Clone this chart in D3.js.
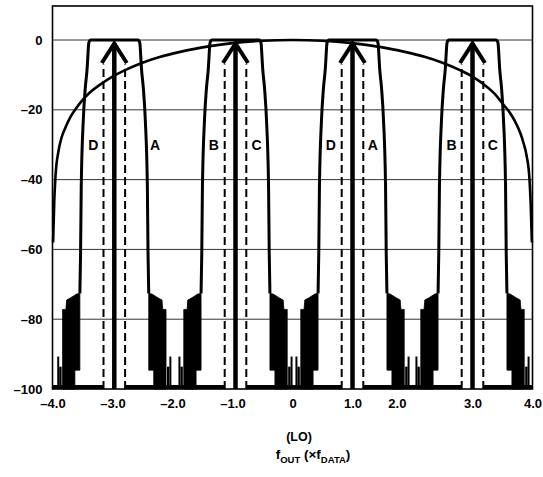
<!DOCTYPE html>
<html><head><meta charset="utf-8">
<script src="https://cdnjs.cloudflare.com/ajax/libs/d3/7.8.5/d3.min.js"></script>
<style>body{margin:0;background:#fff}svg{display:block}text{font-family:"Liberation Sans",Arial,Helvetica,sans-serif;font-weight:bold;fill:#000}</style>
</head><body>
<svg id="c" width="543" height="477"></svg>
<script>
// ---- data ----
const xTickPos    = [-4, -3, -2, -1, 0, 1, 1.74, 3, 4];
const xTickLabels = ["–4.0","–3.0","–2.0","–1.0","0","1.0","2.0","3.0","4.0"];
const yTickValues = [0, -20, -40, -60, -80, -100];
const yTickLabels = ["0","–20","–40","–60","–80","–100"];
const gridValues  = [0, -20, -40, -60, -80];

// tones (arrows) in units of f_DATA
const toneX = [-2.97, -0.95, 1.0, 3.0];
const toneDb = 0;
// dashed image lines beside each tone
const imageDx = 0.18;
const imageTopDb = -7;

// filter passband edge (left side, offset from tone), mirrored for right side
const edgeDx = [-0.574, -0.562, -0.551, -0.517, -0.485, -0.451, -0.437, -0.428, -0.414, -0.395];
const edgeDb = [-72.6, -61, -42, -23, -14, -7.7, -3.5, -1.2, -0.3, 0];

// stopband noise block outline (left side, offset from tone), mirrored for right side
const noiseDx = [-0.574, -0.629, -0.685, -0.740, -0.795, -0.807, -0.862, -0.862, -0.657, -0.657, -0.574];
const noiseDb = [-72.6, -72.8, -73.4, -74.0, -74.5, -77.2, -77.2, -100, -100, -94.6, -94.6];
// noise spikes (left side offsets)
const spikeX0  = [-0.951, -0.918];
const spikeX1  = [-0.918, -0.878];
const spikeTop = [-90.7, -93.6];

// sin(x)/x envelope
const sincX  = [-3.99,-3.97,-3.95,-3.9,-3.85,-3.8,-3.7,-3.6,-3.5,-3.4,-3.2,-3.0,-2.8,-2.5,-2.2,-2.0,-1.5,-1.0,-0.5,0,
                0.5,1.0,1.5,2.0,2.2,2.5,2.8,3.0,3.2,3.4,3.5,3.6,3.7,3.8,3.85,3.9,3.95,3.97,3.99];
const sincDb = [-58,-46,-39,-31.8,-28,-25.7,-22,-19.4,-17.2,-15.4,-12.7,-10.5,-8.7,-6.5,-4.8,-3.9,-2.1,-0.9,-0.2,0,
                -0.2,-0.9,-2.1,-3.9,-4.8,-6.5,-8.7,-10.5,-12.9,-16,-18.2,-20.3,-23,-26.8,-29.5,-33,-40,-47,-58];

// curve labels
const curveNames = ["D","A","B","C","D","A","B","C"];
const curveX     = [-3.32, -2.29, -1.31, -0.60, 0.64, 1.34, 2.65, 3.34];
const curveLabelDb = -30;

// ---- drawing ----
const svg = d3.select("#c");
const x = d3.scaleLinear().domain([-4, 4]).range([52.5, 532.5]);
const y = d3.scaleLinear().domain([-100, 9.75]).range([389, 6]);

// gridlines
svg.append("g").selectAll("line").data(gridValues).join("line")
  .attr("x1", x(-4)).attr("x2", x(4)).attr("y1", d => y(d)).attr("y2", d => y(d))
  .attr("stroke", "#333").attr("stroke-width", 1);

// floor segments at -100 (absent between dashed image lines)
const floorSegs = [];
let prev = -4;
toneX.forEach(c => { floorSegs.push([prev, c - imageDx]); prev = c + imageDx; });
floorSegs.push([prev, 4]);
svg.append("g").selectAll("line").data(floorSegs).join("line")
  .attr("x1", d => x(d[0])).attr("x2", d => x(d[1]))
  .attr("y1", y(-100) - 2).attr("y2", y(-100) - 2)
  .attr("stroke", "#000").attr("stroke-width", 4);

// noise blocks
const noiseLeft = noiseDx.map((d, i) => [d, noiseDb[i]]);
const poly = d3.line().x(d => x(d[0])).y(d => y(d[1]));
const gN = svg.append("g");
toneX.forEach(c => {
  [1, -1].forEach(s => {
    gN.append("path").attr("d", poly(noiseLeft.map(p => [c + s * p[0], p[1]])) + "Z")
      .attr("fill", "#000").attr("stroke", "#000").attr("stroke-width", 0.8);
    spikeX0.forEach((a, i) => {
      const xa = x(c + s * a), xb = x(c + s * spikeX1[i]);
      gN.append("rect").attr("x", Math.min(xa, xb)).attr("width", Math.abs(xb - xa))
        .attr("y", y(spikeTop[i])).attr("height", y(-100) - y(spikeTop[i])).attr("fill", "#000");
    });
  });
});

// passband filter curves
const pass = d3.line().x(d => x(d[0])).y(d => y(d[1])).curve(d3.curveMonotoneX);
const leftEdge = edgeDx.map((d, i) => [d, edgeDb[i]]);
const rightEdge = leftEdge.map(p => [-p[0], p[1]]).reverse();
svg.append("g").selectAll("path").data(toneX).join("path")
  .attr("d", c => pass(leftEdge.concat(rightEdge).map(p => [c + p[0], p[1]])))
  .attr("fill", "none").attr("stroke", "#000").attr("stroke-width", 3);

// dashed image lines
const dashed = [];
toneX.forEach(c => { dashed.push(c - imageDx, c + imageDx); });
svg.append("g").selectAll("line").data(dashed).join("line")
  .attr("x1", d => x(d)).attr("x2", d => x(d))
  .attr("y1", y(-100)).attr("y2", y(imageTopDb))
  .attr("stroke", "#000").attr("stroke-width", 2).attr("stroke-dasharray", "8,4");

// tone arrows
const gA = svg.append("g");
toneX.forEach(c => {
  const cx = x(c), ty = y(toneDb);
  gA.append("line").attr("x1", cx).attr("x2", cx).attr("y1", y(-100)).attr("y2", ty + 3)
    .attr("stroke", "#000").attr("stroke-width", 4.5);
  gA.append("path").attr("d", `M${cx - 12.5},${ty + 23}L${cx},${ty + 3.5}L${cx + 12.5},${ty + 23}`)
    .attr("fill", "none").attr("stroke", "#000").attr("stroke-width", 4)
    .attr("stroke-linejoin", "miter").attr("stroke-miterlimit", 10);
});

// sinc envelope
const sl = d3.line().x(d => x(d[0])).y(d => y(d[1])).curve(d3.curveMonotoneX);
svg.append("path").attr("d", sl(sincX.map((d, i) => [d, sincDb[i]])))
  .attr("fill", "none").attr("stroke", "#000").attr("stroke-width", 2.6);

// frame
svg.append("rect").attr("x", x(-4)).attr("y", y(9.75))
  .attr("width", x(4) - x(-4)).attr("height", y(-100) - y(9.75))
  .attr("fill", "none").attr("stroke", "#000").attr("stroke-width", 1.6);

// curve labels
svg.append("g").selectAll("text").data(curveNames).join("text")
  .attr("x", (d, i) => x(curveX[i])).attr("y", y(curveLabelDb))
  .attr("text-anchor", "middle").attr("dominant-baseline", "central")
  .attr("font-size", 14).text(d => d);

// axes
const xAxis = d3.axisBottom(x).tickValues(xTickPos).tickSize(0).tickPadding(0)
  .tickFormat((d, i) => xTickLabels[i]);
const gx = svg.append("g").attr("transform", `translate(0,${y(-100) + 10})`).call(xAxis);
gx.select(".domain").remove();
gx.selectAll("text").attr("font-size", 13).attr("font-family", null).attr("fill", "#000").attr("dy", "0.71em");

const yAxis = d3.axisLeft(y).tickValues(yTickValues).tickSize(0).tickPadding(0)
  .tickFormat((d, i) => yTickLabels[i]);
const gy = svg.append("g").attr("transform", `translate(${x(-4) - 10},0)`).call(yAxis);
gy.select(".domain").remove();
gy.selectAll("text").attr("font-size", 13).attr("font-family", null).attr("fill", "#000");

// axis title
svg.append("text").attr("x", 299).attr("y", 441).attr("text-anchor", "middle")
  .attr("font-size", 12.5).text("(LO)");
const t = svg.append("text").attr("x", 313).attr("y", 459).attr("text-anchor", "middle").attr("font-size", 13.5);
t.append("tspan").text("f");
t.append("tspan").attr("font-size", 9.5).attr("dy", 3.5).text("OUT");
t.append("tspan").attr("dy", -3.5).text(" (×f");
t.append("tspan").attr("font-size", 9.5).attr("dy", 3.5).text("DATA");
t.append("tspan").attr("dy", -3.5).text(")");
</script>
</body></html>
